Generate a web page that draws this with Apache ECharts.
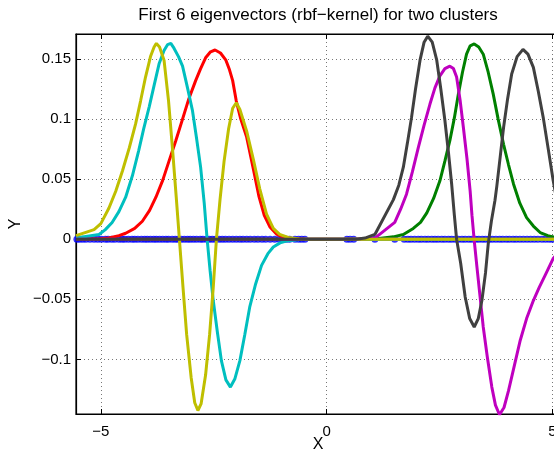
<!DOCTYPE html>
<html>
<head>
<meta charset="utf-8">
<script src="https://cdn.jsdelivr.net/npm/echarts@6/dist/echarts.min.js"></script>
<style>
html,body{margin:0;padding:0;background:#fff;}
#chart{width:554px;height:452px;}
</style>
</head>
<body>
<div id="chart"></div>
<script>
// ---- data ----
const titleText = 'First 6 eigenvectors (rbf\u2212kernel) for two clusters';
const xTicks = [-5, 0, 5];
const yTicks = [-0.1, -0.05, 0, 0.05, 0.1, 0.15];

// x positions of the data points (drawn as blue dots on y = 0)
const pointsLeft = [-5.53,-5.47,-5.4,-5.33,-5.24,-5.15,-5.07,-4.99,-4.9,-4.84,-4.76,-4.69,-4.6,-4.53,-4.47,-4.39,-4.31,-4.25,-4.18,-4.1,-4.03,-3.97,-3.9,-3.83,-3.77,-3.7,-3.63,-3.56,-3.5,-3.42,-3.35,-3.29,-3.22,-3.15,-3.08,-3.02,-2.95,-2.88,-2.8,-2.74,-2.66,-2.6,-2.53,-2.46,-2.38,-2.31,-2.24,-2.16,-2.08,-2.0,-1.92,-1.85,-1.77,-1.69,-1.6,-1.52,-1.43,-1.35,-1.25,-1.15,-1.05,-0.98,-0.9,-0.82,-0.7,-0.62,-0.55,-0.48];
const pointsRight = [0.45,0.52,0.6,1.07,1.51,1.72,1.8,1.87,1.95,2.03,2.1,2.18,2.25,2.33,2.4,2.47,2.55,2.62,2.7,2.77,2.85,2.92,3.0,3.07,3.15,3.22,3.3,3.37,3.45,3.52,3.6,3.67,3.75,3.83,3.9,3.98,4.05,4.13,4.2,4.28,4.36,4.44,4.52,4.6,4.68,4.77,4.85,4.93,5.0,5.1];

const greenVec = [[-5.55,0],[0.45,0],[1.07,0.0003],[1.48,0.002],[1.7,0.004],[1.92,0.009],[2.08,0.014],[2.22,0.022],[2.37,0.034],[2.51,0.0486],[2.62,0.065],[2.73,0.082],[2.83,0.101],[2.92,0.121],[3.01,0.139],[3.10,0.154],[3.18,0.161],[3.27,0.1625],[3.37,0.160],[3.47,0.154],[3.58,0.139],[3.69,0.121],[3.80,0.100],[3.92,0.079],[4.03,0.062],[4.14,0.046],[4.28,0.030],[4.43,0.018],[4.58,0.011],[4.73,0.0056],[4.9,0.003],[5.02,0.002],[5.2,0.001]];

const redVec = [[-5.55,0.0003],[-5.0,0.0005],[-4.82,0.001],[-4.6,0.003],[-4.45,0.005],[-4.25,0.009],[-4.08,0.015],[-3.92,0.024],[-3.78,0.035],[-3.63,0.049],[-3.49,0.065],[-3.34,0.082],[-3.19,0.100],[-3.05,0.117],[-2.90,0.132],[-2.79,0.142],[-2.68,0.151],[-2.57,0.156],[-2.47,0.1575],[-2.35,0.155],[-2.23,0.149],[-2.15,0.141],[-2.08,0.132],[-2.0,0.115],[-1.9,0.100],[-1.77,0.085],[-1.62,0.058],[-1.5,0.036],[-1.38,0.02],[-1.25,0.01],[-1.1,0.004],[-0.9,0.001],[-0.6,0],[5.2,0]];

const cyanVec = [[-5.55,0.001],[-5.04,0.004],[-4.9,0.008],[-4.75,0.014],[-4.6,0.023],[-4.45,0.035],[-4.3,0.053],[-4.16,0.074],[-4.05,0.092],[-3.93,0.110],[-3.82,0.128],[-3.71,0.146],[-3.6,0.157],[-3.52,0.162],[-3.45,0.163],[-3.38,0.159],[-3.28,0.152],[-3.19,0.144],[-3.08,0.126],[-2.97,0.107],[-2.88,0.084],[-2.79,0.060],[-2.71,0.03],[-2.65,0.002],[-2.58,-0.026],[-2.51,-0.051],[-2.42,-0.077],[-2.33,-0.101],[-2.23,-0.117],[-2.13,-0.123],[-2.03,-0.116],[-1.92,-0.101],[-1.81,-0.079],[-1.70,-0.056],[-1.57,-0.037],[-1.44,-0.0217],[-1.3,-0.012],[-1.18,-0.0064],[-1.03,-0.003],[-0.89,-0.0015],[-0.6,-0.0003],[-0.45,0],[5.2,0]];

const magentaVec = [[-5.55,0],[0.66,0],[1.07,0.001],[1.51,0.014],[1.64,0.025],[1.77,0.0375],[1.9,0.056],[2.03,0.076],[2.16,0.095],[2.29,0.1125],[2.4,0.126],[2.51,0.136],[2.62,0.142],[2.73,0.144],[2.81,0.142],[2.88,0.135],[2.96,0.115],[3.03,0.093],[3.11,0.067],[3.18,0.040],[3.22,0.02],[3.27,-0.001],[3.33,-0.023],[3.40,-0.048],[3.47,-0.073],[3.56,-0.098],[3.66,-0.123],[3.74,-0.138],[3.83,-0.146],[3.93,-0.140],[4.03,-0.126],[4.16,-0.105],[4.29,-0.084],[4.43,-0.066],[4.58,-0.051],[4.71,-0.040],[4.84,-0.030],[5.02,-0.016],[5.2,-0.008]];

const yellowVec = [[-5.55,0.003],[-5.15,0.008],[-5.0,0.013],[-4.82,0.026],[-4.67,0.04],[-4.52,0.057],[-4.37,0.076],[-4.23,0.096],[-4.12,0.115],[-4.01,0.135],[-3.9,0.152],[-3.82,0.160],[-3.77,0.163],[-3.70,0.160],[-3.60,0.149],[-3.50,0.115],[-3.41,0.074],[-3.33,0.035],[-3.26,0.0],[-3.18,-0.04],[-3.10,-0.079],[-3.0,-0.115],[-2.92,-0.136],[-2.85,-0.1425],[-2.78,-0.137],[-2.68,-0.113],[-2.59,-0.079],[-2.51,-0.04],[-2.44,0.0],[-2.36,0.033],[-2.27,0.065],[-2.17,0.092],[-2.08,0.109],[-2.0,0.1136],[-1.92,0.108],[-1.77,0.090],[-1.62,0.066],[-1.48,0.042],[-1.33,0.021],[-1.18,0.009],[-1.04,0.004],[-0.85,0.0015],[-0.6,0.0003],[-0.45,0],[5.2,0]];

const grayVec = [[-5.55,0],[0.66,0],[0.85,0.001],[1.07,0.004],[1.48,0.033],[1.60,0.045],[1.70,0.06],[1.79,0.08],[1.88,0.101],[1.97,0.125],[2.07,0.149],[2.16,0.164],[2.24,0.169],[2.34,0.164],[2.44,0.149],[2.53,0.125],[2.62,0.099],[2.70,0.072],[2.77,0.046],[2.83,0.02],[2.88,0.0],[2.97,-0.02],[3.07,-0.048],[3.17,-0.066],[3.27,-0.073],[3.36,-0.066],[3.44,-0.051],[3.52,-0.028],[3.58,-0.004],[3.65,0.015],[3.73,0.0325],[3.77,0.044],[3.85,0.07],[3.92,0.093],[4.01,0.117],[4.10,0.1375],[4.22,0.152],[4.35,0.158],[4.46,0.154],[4.58,0.143],[4.69,0.123],[4.80,0.101],[4.91,0.075],[5.02,0.0486],[5.1,0.032],[5.2,0.02]];

// ---- chart ----
const FONT = 'Liberation Sans, Arial, Helvetica, sans-serif';
const minus = v => (v < 0 ? '\u2212' + String(-v) : String(v));
const xMin = -5.55, xMax = 5.17, yMin = -0.1454, yMax = 0.1708;

const dots = pointsLeft.concat(pointsRight).map(x => [x, 0]);

function lineSeries(name, data, color) {
  return {
    name, type: 'line', data, showSymbol: false, symbol: 'none',
    lineStyle: { color, width: 3 }, itemStyle: { color },
    clip: true, animation: false, z: 3
  };
}

const chart = echarts.init(document.getElementById('chart'), null, { renderer: 'canvas' });
chart.setOption({
  animation: false,
  backgroundColor: '#fff',
  graphic: [{
    type: 'text', x: 318, y: 15, z: 10,
    style: { text: titleText, x: 0, y: 0, textAlign: 'center', textVerticalAlign: 'middle', fontSize: 17, fontFamily: FONT, fill: '#000' }
  }],
  grid: { left: 76, top: 34, width: 484, height: 380, outerBoundsMode: 'none', containLabel: false, show: true, borderColor: '#000', borderWidth: 1.2, backgroundColor: 'transparent' },
  xAxis: [{
    type: 'value', min: xMin, max: xMax, position: 'bottom',
    name: 'X', nameLocation: 'middle', nameGap: 23, nameMoveOverlap: false,
    nameTextStyle: { fontSize: 16, fontFamily: FONT, color: '#000' },
    axisLine: { show: true, onZero: false, lineStyle: { color: '#000', width: 1.2 } },
    axisTick: { show: true, inside: true, length: 5, customValues: xTicks, lineStyle: { color: '#000', width: 1 } },
    axisLabel: { customValues: xTicks, formatter: minus, fontSize: 15, fontFamily: FONT, color: '#000', margin: 10 },
    splitLine: { show: true, lineStyle: { type: [1, 3], color: '#777', width: 1 } }
  }, {
    type: 'value', min: xMin, max: xMax, position: 'top',
    axisLine: { show: true, onZero: false, lineStyle: { color: '#000', width: 1.2 } },
    axisTick: { show: true, inside: true, length: 5, customValues: xTicks, lineStyle: { color: '#000', width: 1 } },
    axisLabel: { show: false }, splitLine: { show: false }
  }],
  yAxis: [{
    type: 'value', min: yMin, max: yMax,
    name: 'Y', nameLocation: 'middle', nameGap: 52, nameRotate: 90, nameMoveOverlap: false,
    nameTextStyle: { fontSize: 16, fontFamily: FONT, color: '#000' },
    axisLine: { show: true, onZero: false, lineStyle: { color: '#000', width: 1.2 } },
    axisTick: { show: true, inside: true, length: 5, customValues: yTicks, lineStyle: { color: '#000', width: 1 } },
    axisLabel: { customValues: yTicks, formatter: minus, fontSize: 15, fontFamily: FONT, color: '#000', margin: 5 },
    splitLine: { show: true, lineStyle: { type: [1, 3], color: '#777', width: 1 } }
  }],
  series: [
    { name: 'points', type: 'scatter', data: dots, symbol: 'circle', symbolSize: 7, itemStyle: { color: '#0000ff' }, z: 2, animation: false },
    lineSeries('v1', greenVec, '#008000'),
    lineSeries('v2', redVec, '#ff0000'),
    lineSeries('v3', cyanVec, '#00bfbf'),
    lineSeries('v4', magentaVec, '#bf00bf'),
    lineSeries('v5', yellowVec, '#bfbf00'),
    lineSeries('v6', grayVec, '#404040')
  ]
});
</script>
</body>
</html>
